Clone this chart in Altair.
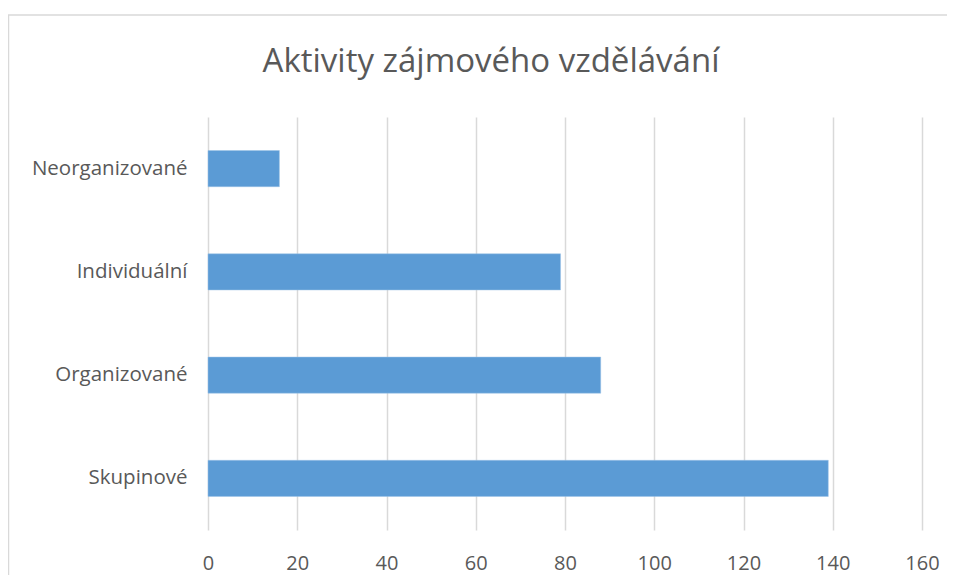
import altair as alt
import pandas as pd

categories = ["Neorganizované", "Individuální", "Organizované", "Skupinové"]
values = [16, 79, 88, 139]
x_ticks = [0, 20, 40, 60, 80, 100, 120, 140, 160]
title_text = "Aktivity zájmového vzdělávání"

df = pd.DataFrame({"kategorie": categories, "hodnota": values})

bars = alt.Chart(df).mark_bar(color="#5B9BD5", stroke="#9DC3E6", strokeWidth=0.5).encode(
    x=alt.X("hodnota:Q", scale=alt.Scale(domain=[0, 160], nice=False),
            axis=alt.Axis(values=x_ticks, title=None, domain=False, ticks=False,
                          grid=True, gridColor="#d9d9d9", gridWidth=1.5,
                          labelFont="Open Sans", labelFontSize=20, labelColor="#595959",
                          labelPadding=23, labelFlush=False, labelOverlap=False)),
    y=alt.Y("kategorie:N", sort=categories,
            scale=alt.Scale(paddingInner=0.65, paddingOuter=0.325),
            axis=alt.Axis(title=None, domain=False, ticks=False, grid=False,
                          labelFont="Open Sans", labelFontSize=20.5, labelColor="#595959",
                          labelPadding=21)),
)

border = alt.Chart(pd.DataFrame({"a": [0]})).mark_rect(
    fill="transparent", stroke="#d9d9d9", strokeWidth=1.5
).encode(
    x=alt.value(-199.5), x2=alt.value(800), y=alt.value(-102), y2=alt.value(600)
)

title = alt.Chart(pd.DataFrame({"t": [title_text]})).mark_text(
    font="Open Sans", fontSize=33, color="#595959", align="center", baseline="alphabetic"
).encode(
    text="t:N", x=alt.value(283), y=alt.value(-45)
)

chart = alt.layer(border, bars, title).properties(
    width=714,
    height=413,
    autosize=alt.AutoSizeParams(type="none"),
    padding={"left": 200, "top": 109, "right": 25, "bottom": 45},
).configure_view(stroke=None)

chart.save("out.html", embed_options={"renderer": "svg", "actions": False})
